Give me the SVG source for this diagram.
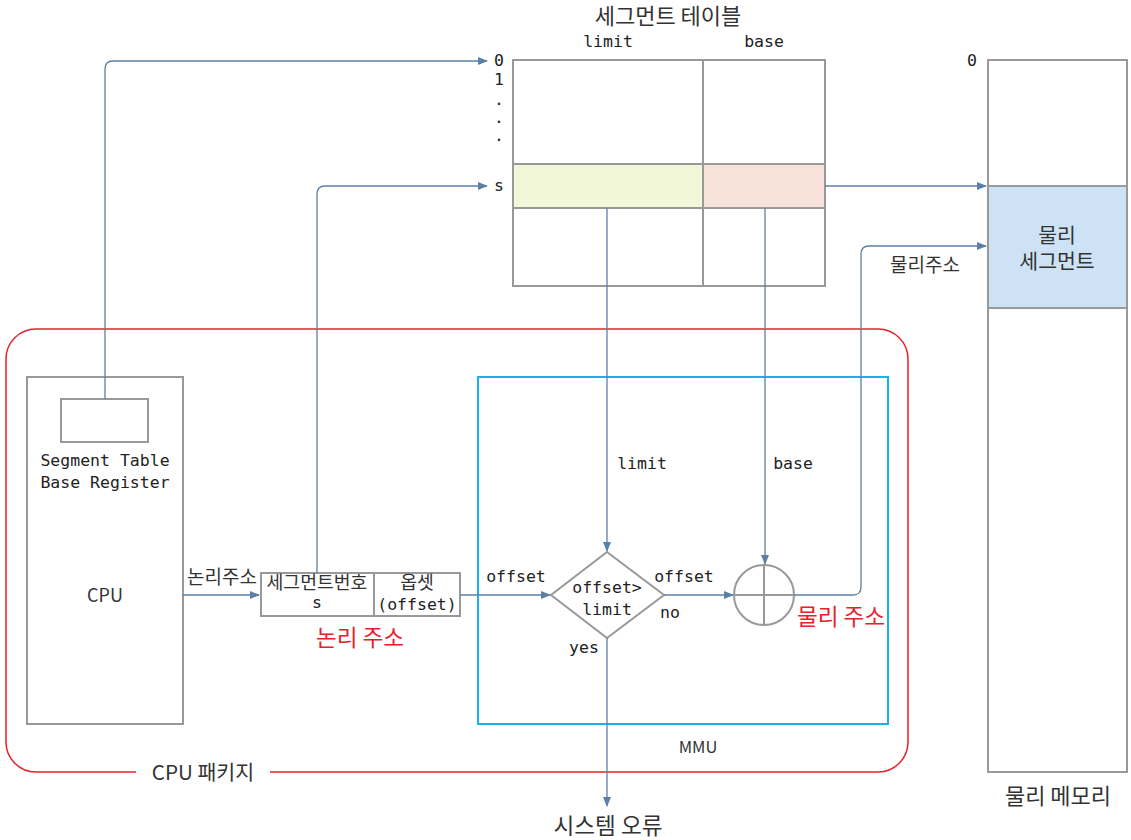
<svg xmlns="http://www.w3.org/2000/svg" width="1131" height="840" viewBox="0 0 1131 840">
<style>
.box{fill:#fff;stroke:#999;stroke-width:2}
.mono{font-family:"DejaVu Sans Mono","Liberation Mono",monospace;font-size:16.5px;fill:#222}
.kr{font-family:"Noto Sans CJK KR","Noto Sans",sans-serif;fill:#333}
.s16{font-size:16.5px}
.s18{font-size:18px}
.s185{font-size:18.3px}
.s19{font-size:19px}
.s20{font-size:20.5px}
.s21{font-size:20.6px}
.s22{font-size:22px}
.s23{font-size:22.6px}
.red{fill:#e8202a}
.c{text-anchor:middle}
.con{fill:none;stroke:#5b80a8;stroke-width:1.3}
</style>
<defs>
<marker id="ah" viewBox="0 0 10 10" refX="9" refY="5" markerWidth="10" markerHeight="10" markerUnits="userSpaceOnUse" orient="auto">
<path d="M0,1 L10,5 L0,9 Z" fill="#5b80a8"/>
</marker>
</defs>
<rect width="1131" height="840" fill="#fff"/>

<g id="cpu-package">
<rect x="6" y="329" width="902" height="443" rx="30" fill="none" stroke="#e8202a" stroke-width="1.5"/>
<rect x="136" y="760" width="134" height="24" fill="#fff"/>
<text x="203" y="780" class="kr c s21">CPU 패키지</text>
</g>

<g id="mmu">
<rect x="478" y="377" width="410" height="347" fill="none" stroke="#1ab0e8" stroke-width="2"/>
<text x="698" y="753" class="kr c s16">MMU</text>
</g>

<g id="cpu">
<rect x="27" y="377" width="156" height="347" class="box"/>
<text x="105" y="602" class="kr c s18">CPU</text>
</g>

<g id="stbr">
<rect x="61" y="399" width="87" height="43" class="box"/>
<text x="105" y="466" class="mono c">Segment Table</text>
<text x="105" y="488" class="mono c">Base Register</text>
</g>

<g id="segment-table">
<text x="668" y="24" class="kr c s22">세그먼트 테이블</text>
<text x="608" y="47" class="mono c">limit</text>
<text x="764" y="47" class="mono c">base</text>
<rect x="513" y="60" width="312" height="226" class="box"/>
<rect x="513" y="164" width="190" height="44" fill="#f3f7d9" stroke="#999" stroke-width="2"/>
<rect x="703" y="164" width="122" height="44" fill="#f9e2da" stroke="#999" stroke-width="2"/>
<line x1="703" y1="60" x2="703" y2="286" stroke="#999" stroke-width="2"/>
<text x="499" y="66" class="mono c">0</text>
<text x="499" y="85" class="mono c">1</text>
<text x="499" y="105" class="mono c">.</text>
<text x="499" y="123" class="mono c">.</text>
<text x="499" y="141" class="mono c">.</text>
<text x="499" y="191" class="mono c">s</text>
</g>

<g id="physical-memory">
<text x="972" y="66" class="mono c">0</text>
<rect x="988" y="60" width="139" height="712" class="box"/>
<rect x="988" y="186" width="139" height="122" fill="#cde3f5" stroke="#999" stroke-width="2"/>
<text class="kr c s20"><tspan x="1057" y="243">물리</tspan><tspan x="1057" y="269">세그먼트</tspan></text>
<text x="1058" y="804" class="kr c s22">물리 메모리</text>
</g>

<g id="logical-address">
<rect x="261" y="573" width="199" height="43" class="box"/>
<line x1="374" y1="573" x2="374" y2="616" stroke="#999" stroke-width="2"/>
<text x="317" y="589" class="kr c s185">세그먼트번호</text>
<text x="317" y="608" class="mono c">s</text>
<text x="417" y="589" class="kr c s185">옵셋</text>
<text x="417" y="610" class="mono c">(offset)</text>
<text x="360" y="646" class="kr c red s23">논리 주소</text>
</g>

<g id="compare">
<polygon points="607,552 664,595 607,638 551,595" fill="#fff" stroke="#999" stroke-width="2"/>
<text x="607" y="593" class="mono c">offset&gt;</text>
<text x="607" y="615" class="mono c">limit</text>
</g>

<g id="adder">
<circle cx="764" cy="595" r="30" fill="#fff" stroke="#999" stroke-width="2"/>
<line x1="734" y1="595" x2="794" y2="595" stroke="#999" stroke-width="2"/>
<line x1="764" y1="565" x2="764" y2="625" stroke="#999" stroke-width="2"/>
<text x="841" y="625" class="kr c red s23">물리 주소</text>
</g>

<g id="system-error">
<text x="608" y="834" class="kr c s23">시스템 오류</text>
</g>

<g id="connectors">
<path class="con" d="M105,399 V69 Q105,61 113,61 H487" marker-end="url(#ah)"/>
<path class="con" d="M317,573 V194 Q317,186 325,186 H487" marker-end="url(#ah)"/>
<path class="con" d="M825,186 H986" marker-end="url(#ah)"/>
<path class="con" d="M794,595 H853 Q861,595 861,587 V254 Q861,246 869,246 H986" marker-end="url(#ah)"/>
<path class="con" d="M183,595 H259" marker-end="url(#ah)"/>
<path class="con" d="M460,595 H550" marker-end="url(#ah)"/>
<path class="con" d="M607,208 V551" marker-end="url(#ah)"/>
<path class="con" d="M765,208 V564" marker-end="url(#ah)"/>
<path class="con" d="M664,595 H733" marker-end="url(#ah)"/>
<path class="con" d="M607,638 V806" marker-end="url(#ah)"/>
</g>

<g id="labels">
<text x="222" y="584" class="kr c s19">논리주소</text>
<text x="925" y="272" class="kr c s19">물리주소</text>
<text x="516" y="582" class="mono c">offset</text>
<text x="684" y="582" class="mono c">offset</text>
<text x="670" y="618" class="mono c">no</text>
<text x="584" y="653" class="mono c">yes</text>
<text x="642" y="469" class="mono c">limit</text>
<text x="793" y="469" class="mono c">base</text>
</g>
</svg>
